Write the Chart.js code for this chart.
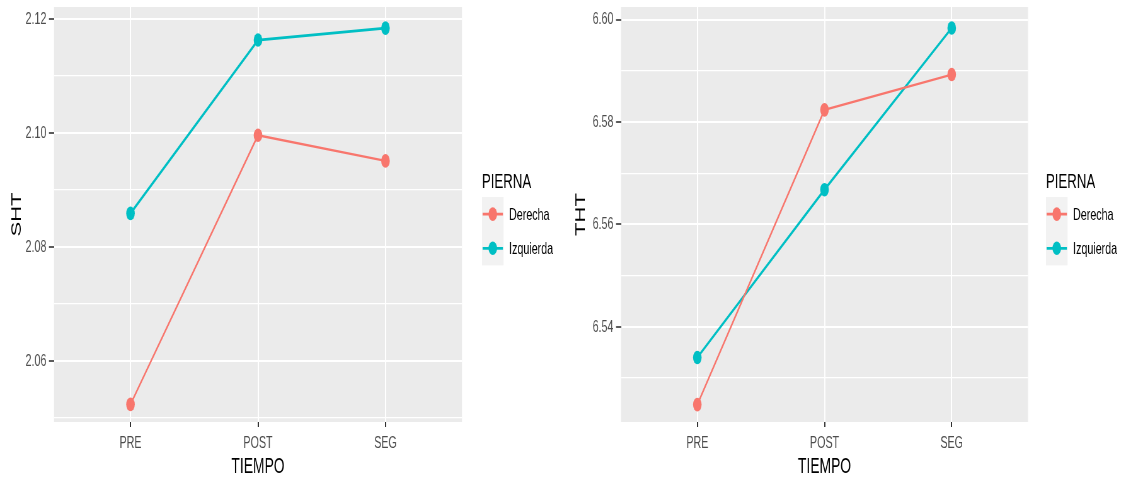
<!DOCTYPE html>
<html><head><meta charset="utf-8">
<script src="https://cdn.jsdelivr.net/npm/chart.js@4.4.1/dist/chart.umd.min.js"></script>
<style>
html,body{margin:0;padding:0;background:#fff;width:1128px;height:481px;overflow:hidden}
canvas{position:absolute;top:0;transform:scaleX(0.63);transform-origin:0 0}
</style></head><body>
<canvas id="c1" width="896" height="481" style="left:0px"></canvas>
<canvas id="c2" width="896" height="481" style="left:564px"></canvas>
<script>
// ---- data ----
const categories = ['PRE', 'POST', 'SEG'];
const seriesNames = ['Derecha', 'Izquierda'];
const legendTitle = 'PIERNA';
const xTitle = 'TIEMPO';
const shtDerecha = [2.0524, 2.0996, 2.0951];
const shtIzquierda = [2.0859, 2.1163, 2.1184];
const thtDerecha = [6.5248, 6.5824, 6.5893];
const thtIzquierda = [6.5340, 6.5668, 6.5984];
const shtTicks = [2.06, 2.08, 2.10, 2.12];
const thtTicks = [6.54, 6.56, 6.58, 6.60];
const shtRange = [2.0493, 2.1221];
const thtRange = [6.5214, 6.6025];
const seriesColors = ['#F8766D', '#00BFC4'];
const seriesWidths = [2.3, 2.8];

const FONT = '"Liberation Sans", Arial, Helvetica, sans-serif';

const panelBg = {
  id: 'panelBg',
  beforeDraw(chart) {
    const {ctx, chartArea: a} = chart;
    ctx.save();
    ctx.fillStyle = '#EBEBEB';
    ctx.fillRect(a.left, a.top, a.right - a.left, a.bottom - a.top);
    ctx.restore();
  }
};

const ggLegend = {
  id: 'ggLegend',
  afterDraw(chart, args, o) {
    const ctx = chart.ctx;
    const dss = chart.data.datasets;
    ctx.save();
    ctx.fillStyle = '#000';
    ctx.font = '21px ' + FONT;
    ctx.textBaseline = 'alphabetic';
    ctx.textAlign = 'left';
    ctx.fillText(o.title, o.x, o.titleY);
    ctx.fillStyle = '#F2F2F2';
    ctx.fillRect(o.x, o.keyTop, o.keyW, o.keyH * dss.length);
    dss.forEach((ds, i) => {
      const cy = o.keyTop + o.keyH * (i + 0.5);
      ctx.strokeStyle = ds.borderColor;
      ctx.lineWidth = 2.8;
      ctx.beginPath();
      ctx.moveTo(o.x + 1, cy);
      ctx.lineTo(o.x + o.keyW - 1, cy);
      ctx.stroke();
      ctx.fillStyle = ds.borderColor;
      ctx.beginPath();
      ctx.arc(o.x + o.keyW / 2, cy, ds.pointRadius, 0, Math.PI * 2);
      ctx.fill();
      ctx.fillStyle = '#000';
      ctx.font = '17px ' + FONT;
      ctx.textBaseline = 'middle';
      ctx.fillText(ds.label, o.textX, cy + 1);
    });
    ctx.restore();
  }
};

function makeChart(id, yTitle, seriesA, seriesB, majors, range, yWidth, padRight) {
  const step = majors[1] - majors[0];
  const datasets = [seriesA, seriesB].map((vals, i) => ({
    label: seriesNames[i],
    data: vals.map((v, k) => ({x: k, y: v})),
    borderColor: seriesColors[i],
    backgroundColor: seriesColors[i],
    pointBackgroundColor: seriesColors[i],
    pointBorderWidth: 0,
    pointRadius: 6.8,
    borderWidth: seriesWidths[i],
    tension: 0
  }));
  return new Chart(document.getElementById(id), {
    type: 'line',
    data: {datasets},
    plugins: [panelBg, ggLegend],
    options: {
      responsive: false,
      animation: false,
      devicePixelRatio: 1,
      events: [],
      layout: {padding: {top: 7, right: padRight, bottom: 0, left: 0}},
      plugins: {
        legend: {display: false},
        tooltip: {enabled: false},
        ggLegend: {title: legendTitle, x: 765, titleY: 188, keyTop: 197, keyH: 34.2, keyW: 34.3, textX: 808}
      },
      scales: {
        x: {
          type: 'linear',
          min: -0.6, max: 2.6,
          border: {display: false},
          grid: {color: '#FFFFFF', lineWidth: 2, tickColor: '#333333', tickLength: 5, tickWidth: 2},
          ticks: {
            color: '#4D4D4D', font: {family: FONT, size: 17}, padding: 6,
            maxRotation: 0, autoSkip: false,
            callback: (v) => categories[Math.round(v)]
          },
          afterBuildTicks: (s) => { s.ticks = categories.map((c, i) => ({value: i})); },
          afterFit: (s) => { s.height = 59; s.paddingLeft = 0; s.paddingRight = 0; },
          title: {display: true, text: xTitle, color: '#000', font: {family: FONT, size: 22}, padding: {top: 0, bottom: 1}}
        },
        y: {
          type: 'linear',
          min: range[0], max: range[1],
          border: {display: false},
          grid: {
            color: '#FFFFFF',
            lineWidth: (c) => (c.tick && c.tick.minor) ? 1.2 : 2,
            tickColor: (c) => (c.tick && c.tick.minor) ? 'rgba(0,0,0,0)' : '#333333',
            tickLength: 8, tickWidth: 1.6
          },
          ticks: {
            color: '#4D4D4D', font: {family: FONT, size: 17}, padding: 4, autoSkip: false,
            callback: (v, i, ticks) => ticks[i].minor ? '' : v.toFixed(2)
          },
          afterBuildTicks: (s) => {
            const t = majors.map(m => ({value: m}));
            majors.forEach(m => t.push({value: m - step / 2, minor: true}));
            const top = majors[majors.length - 1] + step / 2;
            if (top <= range[1]) t.push({value: top, minor: true});
            s.ticks = t.filter(k => k.value >= range[0] && k.value <= range[1]).sort((a, b) => a.value - b.value);
          },
          afterFit: (s) => { s.width = yWidth; s.paddingTop = 0; s.paddingBottom = 0; },
          title: {display: true, text: yTitle, color: '#000', font: {family: FONT, size: 22}, padding: {top: 14, bottom: 0}}
        }
      }
    }
  });
}

makeChart('c1', 'SHT', shtDerecha, shtIzquierda, shtTicks, shtRange, 85.7, 162.7);
makeChart('c2', 'THT', thtDerecha, thtIzquierda, thtTicks, thtRange, 90.5, 159.5);
</script>
</body></html>
